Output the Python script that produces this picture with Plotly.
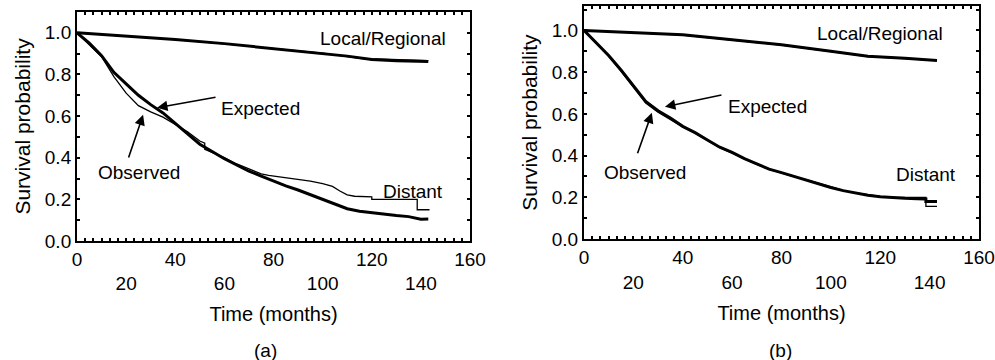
import plotly.graph_objects as go

# ---------------- data ----------------
# Panel (a)
a_loc_t = [0, 20, 40, 60, 80, 100, 110, 120, 130, 143]
a_loc_exp = [1.0, 0.985, 0.968, 0.948, 0.925, 0.900, 0.888, 0.872, 0.866, 0.862]
a_loc_obs_t = [0, 20, 40, 60, 80, 100, 110, 116, 125, 135, 143]
a_loc_obs = [1.0, 0.984, 0.967, 0.947, 0.925, 0.902, 0.886, 0.876, 0.873, 0.870, 0.866]

a_dist_t = [0, 5, 10, 15, 20, 25, 30, 35, 40, 45, 50, 55, 60, 65, 70, 75, 80,
            85, 90, 95, 100, 105, 110, 115, 120, 125, 130, 135, 140, 143]
a_dist_exp = [1.0, 0.95, 0.89, 0.81, 0.755, 0.70, 0.655, 0.615, 0.565, 0.515,
              0.465, 0.43, 0.395, 0.365, 0.335, 0.312, 0.288, 0.265, 0.245,
              0.222, 0.198, 0.175, 0.155, 0.143, 0.135, 0.128, 0.122, 0.117,
              0.105, 0.106]
a_dist_obs_t = [0, 5, 10, 15, 20, 25, 30, 35, 40, 45, 50, 52, 52, 55, 60, 65, 70,
                75, 78, 84, 90, 95, 100, 104, 107, 110, 113, 120, 120, 138.5, 138.5, 143.5]
a_dist_obs = [1.0, 0.94, 0.885, 0.79, 0.71, 0.65, 0.62, 0.595, 0.56, 0.525,
              0.48, 0.47, 0.44, 0.425, 0.40, 0.37, 0.345, 0.322, 0.315, 0.305,
              0.298, 0.288, 0.275, 0.262, 0.24, 0.222, 0.215, 0.212, 0.20, 0.20,
              0.15, 0.15]

# Panel (b)
b_loc_t = [0, 20, 40, 60, 80, 100, 115, 130, 143]
b_loc_exp = [1.0, 0.99, 0.979, 0.955, 0.931, 0.900, 0.876, 0.866, 0.856]
b_loc_obs = [1.0, 0.989, 0.978, 0.954, 0.930, 0.899, 0.875, 0.865, 0.855]

b_dist_t = [0, 5, 10, 15, 17, 20, 25, 30, 35, 40, 45, 50, 55, 60, 65, 70, 75,
            80, 85, 90, 95, 100, 105, 110, 115, 120, 125, 130, 135, 138.5, 138.5, 143]
b_dist_exp = [1.0, 0.94, 0.88, 0.81, 0.78, 0.735, 0.66, 0.615, 0.58, 0.54,
              0.51, 0.475, 0.44, 0.415, 0.385, 0.36, 0.335, 0.318, 0.30,
              0.283, 0.265, 0.247, 0.232, 0.22, 0.21, 0.203, 0.198, 0.195,
              0.193, 0.192, 0.18, 0.18]
b_dist_obs_t = [0, 5, 10, 15, 20, 25, 30, 35, 40, 45, 50, 55, 60, 65, 70, 75,
                80, 85, 90, 95, 100, 105, 110, 115, 120, 125, 130, 138.5, 138.5, 143]
b_dist_obs = [1.0, 0.938, 0.876, 0.805, 0.728, 0.652, 0.608, 0.572, 0.537,
              0.507, 0.472, 0.438, 0.412, 0.383, 0.358, 0.334, 0.316, 0.299,
              0.285, 0.267, 0.249, 0.233, 0.221, 0.211, 0.204, 0.2, 0.2, 0.2,
              0.156, 0.156]

x_ticks = [0, 20, 40, 60, 80, 100, 120, 140, 160]
x_ticktext = ["0", "<br>20", "40", "<br>60", "80", "<br>100", "120", "<br>140", "160"]

FONT = "Liberation Sans, Arial, Helvetica, sans-serif"

fig = go.Figure()

def add_panel(xa, ya, loc_t, loc_exp, loc_obs_t, loc_obs, dist_t, dist_exp, dist_obs_t, dist_obs):
    fig.add_trace(go.Scatter(x=loc_obs_t, y=loc_obs, mode="lines", line=dict(color="black", width=1.3),
                             xaxis=xa, yaxis=ya, showlegend=False, hoverinfo="skip"))
    fig.add_trace(go.Scatter(x=loc_t, y=loc_exp, mode="lines", line=dict(color="black", width=3),
                             xaxis=xa, yaxis=ya, showlegend=False, hoverinfo="skip"))
    fig.add_trace(go.Scatter(x=dist_obs_t, y=dist_obs, mode="lines", line=dict(color="black", width=1.3),
                             xaxis=xa, yaxis=ya, showlegend=False, hoverinfo="skip"))
    fig.add_trace(go.Scatter(x=dist_t, y=dist_exp, mode="lines", line=dict(color="black", width=3),
                             xaxis=xa, yaxis=ya, showlegend=False, hoverinfo="skip"))

add_panel("x", "y", a_loc_t, a_loc_exp, a_loc_obs_t, a_loc_obs, a_dist_t, a_dist_exp, a_dist_obs_t, a_dist_obs)
add_panel("x2", "y2", b_loc_t, b_loc_exp, b_loc_t, b_loc_obs, b_dist_t, b_dist_exp, b_dist_obs_t, b_dist_obs)

xaxis_common = dict(
    range=[0, 160], tickmode="array", tickvals=x_ticks, ticktext=x_ticktext,
    ticks="inside", ticklen=3, tickwidth=1.5, tickcolor="black",
    minor=dict(ticks="inside", ticklen=3, tickwidth=1.5, tickcolor="black", dtick=10 / 3, tick0=0),
    showline=True, linecolor="black", linewidth=2, mirror="allticks",
    showgrid=False, zeroline=False, automargin=False,
    tickfont=dict(family=FONT, size=19, color="black"),
    title=dict(text="Time (months)", font=dict(family=FONT, size=20, color="black"), standoff=14),
)
yaxis_common = dict(
    tickmode="linear", tick0=0, dtick=0.2, tickformat=".1f",
    ticks="inside", ticklen=3, tickwidth=1.5, tickcolor="black",
    minor=dict(ticks="inside", ticklen=3, tickwidth=1.5, tickcolor="black", dtick=0.1),
    showline=True, linecolor="black", linewidth=2, mirror="allticks",
    showgrid=False, zeroline=False, automargin=False,
    tickfont=dict(family=FONT, size=19, color="black"),
    title=dict(text="Survival probability", font=dict(family=FONT, size=21, color="black"), standoff=8),
)

fig.update_layout(
    width=995, height=360, margin=dict(l=0, r=0, t=0, b=0),
    paper_bgcolor="white", plot_bgcolor="white",
    font=dict(family=FONT, color="black"),
    xaxis=dict(domain=[0.0774, 0.4724], anchor="y", **xaxis_common),
    yaxis=dict(domain=[0.3306, 0.9667], anchor="x", range=[0, 1.1], **yaxis_common),
    xaxis2=dict(domain=[0.5869, 0.9839], anchor="y2", **xaxis_common),
    yaxis2=dict(domain=[0.3361, 0.9833], anchor="x2", range=[0, 1.117], **yaxis_common),
)

ann_font = dict(family=FONT, size=19, color="black")

def panel_annotations(xr, yr, labels):
    for text, x, y in labels:
        fig.add_annotation(x=x, y=y, xref=xr, yref=yr, text=text, showarrow=False, font=ann_font,
                           xanchor="center", yanchor="middle")

panel_annotations("x", "y", [("Local/Regional", 124.6, 0.971), ("Expected", 74.5, 0.635),
                             ("Observed", 25.2, 0.327), ("Distant", 136.8, 0.24)])
panel_annotations("x2", "y2", [("Local/Regional", 119.9, 0.984), ("Expected", 74.5, 0.634),
                               ("Observed", 24.7, 0.318), ("Distant", 138.5, 0.308)])

def arrow(xr, yr, x, y, ax, ay):
    fig.add_annotation(x=x, y=y, ax=ax, ay=ay, xref=xr, yref=yr, axref=xr, ayref=yr,
                       text="", showarrow=True, arrowhead=2, arrowsize=1.3, arrowwidth=1.6,
                       arrowcolor="black")

arrow("x", "y", 32.6, 0.64, 57, 0.692)
arrow("x", "y", 26.9, 0.606, 20.8, 0.394)
arrow("x2", "y2", 32.8, 0.634, 56.3, 0.692)
arrow("x2", "y2", 27.5, 0.605, 21.5, 0.404)

fig.add_annotation(x=265 / 995, y=1 - 350 / 360, xref="paper", yref="paper", text="(a)",
                   showarrow=False, font=ann_font, xanchor="center", yanchor="middle")
fig.add_annotation(x=780 / 995, y=1 - 350 / 360, xref="paper", yref="paper", text="(b)",
                   showarrow=False, font=ann_font, xanchor="center", yanchor="middle")

fig.write_html("out.html")
